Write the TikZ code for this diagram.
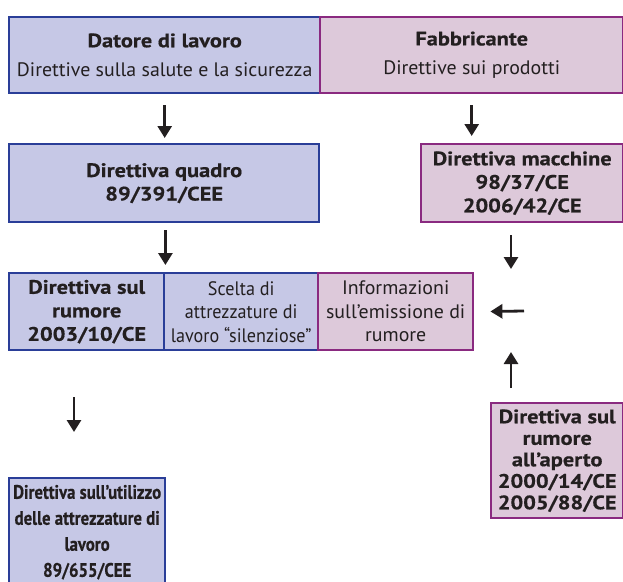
\documentclass[tikz,border=0pt]{standalone}
\usepackage{fontspec}
\setmainfont{PT Sans}[FakeStretch=1.02]
\newfontfamily\bd[FakeStretch=1.15, FakeBold=0.5]{PT Sans}
\newfontfamily\condfont[FakeStretch=0.93]{PT Sans}
\newfontfamily\xcondfont[FakeStretch=0.86, FakeBold=0.5]{PT Sans}
\usetikzlibrary{arrows.meta}
\definecolor{bfill}{RGB}{198,200,230}
\definecolor{bborder}{RGB}{42,62,152}
\definecolor{pfill}{RGB}{221,201,218}
\definecolor{pborder}{RGB}{138,42,128}
\definecolor{txt}{RGB}{35,31,32}
\tikzset{
  box/.style={line width=2.4pt, inner sep=0pt, align=center, anchor=north west, text=txt,
    font=\fontsize{19.5}{23.5}\selectfont},
  bluebox/.style={box, draw=bborder, fill=bfill},
  pinkbox/.style={box, draw=pborder, fill=pfill},
  arr/.style={line width=2.8pt, draw=txt, -{Triangle[length=12pt,width=14pt]}}
}
\begin{document}
\begin{tikzpicture}[x=1pt,y=-1pt]
\useasboundingbox (0,0) rectangle (623,581);
% top row
\node[bluebox, minimum width=311pt, minimum height=76pt] (datore) at (8,16)
  {{\bd\bfseries Datore di lavoro}\\[6pt]Direttive sulla salute e la sicurezza};
\node[pinkbox, minimum width=303pt, minimum height=76pt] (fabb) at (319,16)
  {{\bd\bfseries Fabbricante}\\[6pt]Direttive sui prodotti};
% second row
\node[bluebox, minimum width=310pt, minimum height=78pt, font=\fontsize{19.5}{23.5}\selectfont\bd\bfseries] (quadro) at (8,143)
  {Direttiva quadro\\89/391/CEE};
\node[pinkbox, minimum width=202pt, minimum height=78pt, font=\fontsize{19.5}{23.5}\selectfont\bd\bfseries] (macch) at (420,143)
  {Direttiva macchine\\98/37/CE\\2006/42/CE};
% third row
\node[bluebox, minimum width=155pt, minimum height=77pt, font=\fontsize{19.5}{23.5}\selectfont\bd\bfseries] (rumore) at (8,272)
  {Direttiva sul\\rumore\\2003/10/CE};
\node[bluebox, minimum width=154pt, minimum height=77pt, font=\fontsize{19.5}{23.5}\selectfont\condfont] (scelta) at (163,272)
  {Scelta di\\attrezzature di\\lavoro “silenziose”};
\node[pinkbox, minimum width=155pt, minimum height=77pt] (info) at (317,272)
  {Informazioni\\sull’emissione di\\rumore};
% bottom
\node[bluebox, minimum width=156pt, minimum height=108pt,
  font=\fontsize{19.5}{26}\selectfont\xcondfont\bfseries] (utilizzo) at (8,477)
  {Direttiva sull’utilizzo\\delle attrezzature di\\lavoro\\89/655/CEE};
\node[pinkbox, minimum width=132pt, minimum height=115pt,
  font=\fontsize{19.5}{21.5}\selectfont\bd\bfseries] (aperto) at (490,402)
  {Direttiva sul\\rumore\\all’aperto\\2000/14/CE\\2005/88/CE};
% connectors
\coordinate (j) at (511,311);
\draw[arr, shorten <=11pt, shorten >=5pt] (datore.south) -- (quadro.north -| datore.south);
\draw[arr, shorten <=11pt, shorten >=7pt] (fabb.south) -- (macch.north -| fabb.south);
\draw[arr, shorten <=7pt, shorten >=7pt] (quadro.south -| rumore.east) -- (rumore.north east);
\draw[arr, shorten <=12pt, shorten >=42pt] (macch.south -| j) -- (j);
\draw[arr, shorten <=14pt, shorten >=41pt] (aperto.north -| j) -- (j);
\draw[arr, shorten >=16pt] ([xshift=13pt]j) -- (info.east);
\draw[arr, shorten <=46pt, shorten >=45pt] (rumore.south -| 74,0) -- (utilizzo.north -| 74,0);
\end{tikzpicture}
\end{document}
